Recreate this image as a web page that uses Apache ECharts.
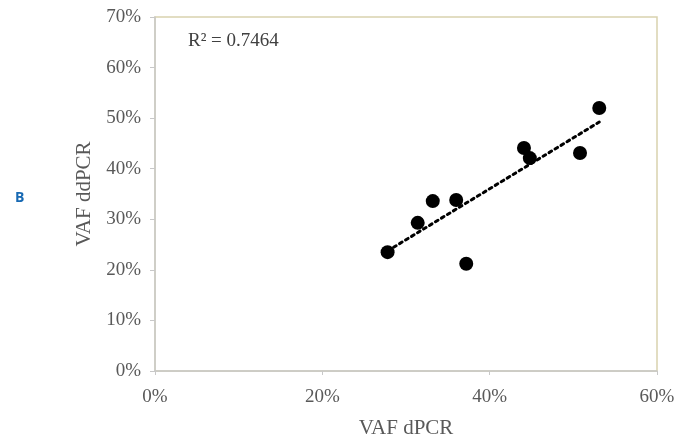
<!DOCTYPE html>
<html><head><meta charset="utf-8">
<script src="https://cdn.jsdelivr.net/npm/echarts@6/dist/echarts.min.js"></script>
<style>html,body{margin:0;padding:0;background:#fff}#c{width:699px;height:443px}</style>
</head><body><div id="c"></div>
<script>
const xValues = [0.278, 0.314, 0.332, 0.360, 0.372, 0.441, 0.448, 0.508, 0.531];
const yValues = [0.235, 0.293, 0.336, 0.338, 0.212, 0.441, 0.421, 0.431, 0.520];
const r2Label = 'R\u00B2 = 0.7464';
const xTitle = 'VAF dPCR';
const yTitle = 'VAF ddPCR';
const panelLabel = 'B';

const pts = xValues.map((x, i) => [x, yValues[i]]);
const n = xValues.length;
const mx = xValues.reduce((a, b) => a + b, 0) / n;
const my = yValues.reduce((a, b) => a + b, 0) / n;
let sxy = 0, sxx = 0;
for (let i = 0; i < n; i++) { sxy += (xValues[i] - mx) * (yValues[i] - my); sxx += (xValues[i] - mx) ** 2; }
const slope = sxy / sxx, icpt = my - slope * mx;
const xmin = Math.min(...xValues), xmax = Math.max(...xValues);
const trend = [[xmin, icpt + slope * xmin], [xmax, icpt + slope * xmax]];

const pct = v => Math.round(v * 100) + '%';
const font = '"Liberation Serif", "DejaVu Serif", serif';
const chart = echarts.init(document.getElementById('c'), null, {renderer: 'canvas'});
chart.setOption({
  animation: false,
  grid: {left: 155, right: 42, top: 17, bottom: 72, containLabel: false, outerBoundsMode: 'none',
         show: true, borderColor: '#d9d2ae', borderWidth: 1.5, backgroundColor: '#fff'},
  xAxis: {
    type: 'value', min: 0, max: 0.6, interval: 0.2,
    name: xTitle, nameLocation: 'middle', nameGap: 47,
    nameTextStyle: {fontFamily: font, fontSize: 21, color: '#595959'},
    axisLine: {show: true, lineStyle: {color: '#c8c8c8', width: 1.5}},
    axisTick: {show: true, length: 4, lineStyle: {color: '#c8c8c8'}},
    splitLine: {show: false},
    axisLabel: {formatter: pct, fontFamily: font, fontSize: 19, color: '#595959', margin: 17}
  },
  yAxis: {
    type: 'value', min: 0, max: 0.7, interval: 0.1,
    name: yTitle, nameLocation: 'middle', nameGap: 45,
    nameTextStyle: {fontFamily: font, fontSize: 21, color: '#595959'},
    axisLine: {show: true, lineStyle: {color: '#c8c8c8', width: 1.5}},
    axisTick: {show: true, length: 5, lineStyle: {color: '#c8c8c8'}},
    splitLine: {show: false},
    axisLabel: {formatter: pct, fontFamily: font, fontSize: 19, color: '#595959', margin: 14}
  },
  graphic: [
    {type: 'text', left: 188, top: 32, style: {text: r2Label, font: '19px ' + font, fill: '#404040'}},
    {type: 'text', left: 15, top: 191, style: {text: panelLabel, font: 'bold 14px "Open Sans", "DejaVu Sans", sans-serif', fill: '#1769b3'}}
  ],
  series: [
    {type: 'line', data: trend, symbol: 'none', silent: true,
     lineStyle: {color: '#000', width: 3, type: [3, 4], cap: 'round'}, z: 2},
    {type: 'scatter', data: pts, symbol: 'circle', symbolSize: 14,
     itemStyle: {color: '#000', opacity: 1}, z: 3}
  ]
});
</script></body></html>
